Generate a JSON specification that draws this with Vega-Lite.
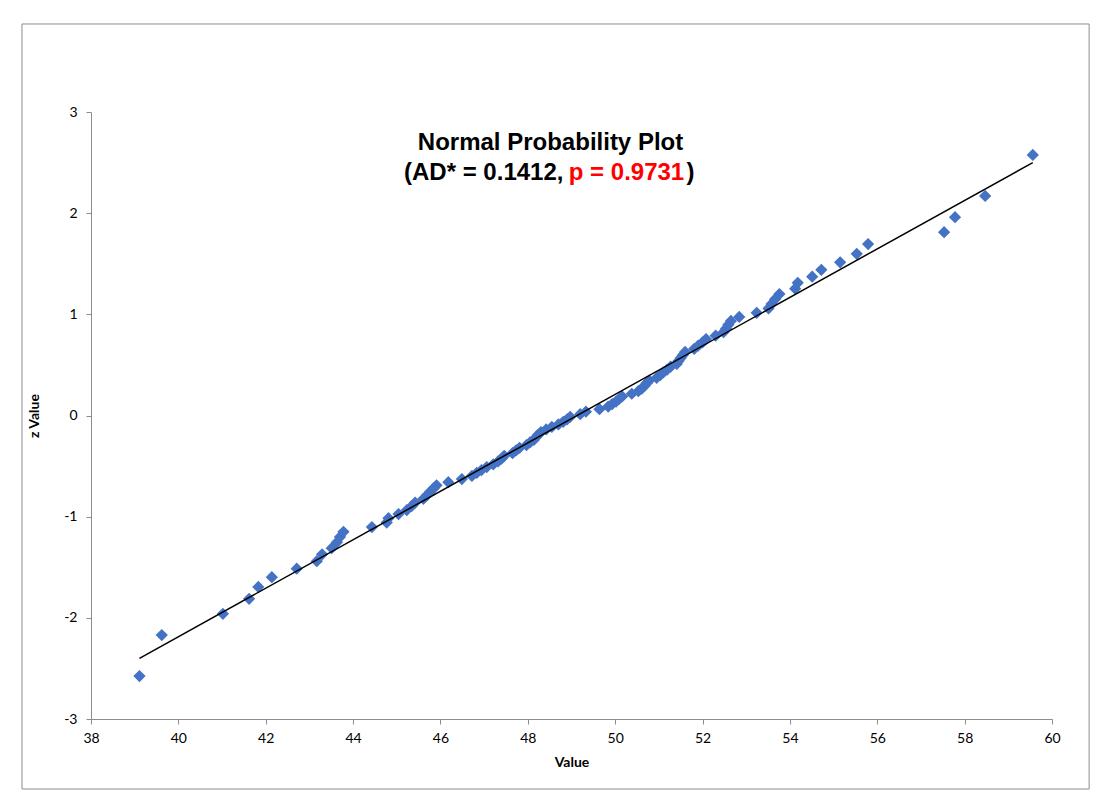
{
  "$schema": "https://vega.github.io/schema/vega-lite/v6.json",
  "width": 961,
  "height": 607,
  "autosize": {"type": "none"},
  "padding": {"left": 91, "top": 112, "right": 58, "bottom": 79},
  "background": "white",
  "config": {
    "view": {"stroke": null},
    "axis": {
      "grid": false, "domainColor": "#8c8c8c", "tickColor": "#8c8c8c", "tickSize": 5,
      "labelFont": "Lato", "labelFontSize": 14, "labelColor": "#000000",
      "labelFlush": false, "labelOverlap": false,
      "titleFont": "Lato", "titleFontSize": 14, "titleFontWeight": "bold", "titleColor": "#000000"
    },
    "axisX": {"labelPadding": 7, "titlePadding": 10},
    "axisY": {"labelPadding": 9, "titlePadding": 22}
  },
  "layer": [
    {
      "data": {"values": [
        {"value": 39.11, "z": -2.576}, {"value": 39.62, "z": -2.170}, {"value": 41.02, "z": -1.960}, {"value": 41.62, "z": -1.812},
        {"value": 41.83, "z": -1.695}, {"value": 42.14, "z": -1.598}, {"value": 42.71, "z": -1.514}, {"value": 43.17, "z": -1.440},
        {"value": 43.29, "z": -1.372}, {"value": 43.51, "z": -1.311}, {"value": 43.63, "z": -1.254}, {"value": 43.70, "z": -1.200},
        {"value": 43.78, "z": -1.150}, {"value": 44.43, "z": -1.103}, {"value": 44.77, "z": -1.058}, {"value": 44.81, "z": -1.015},
        {"value": 45.04, "z": -0.974}, {"value": 45.23, "z": -0.935}, {"value": 45.34, "z": -0.896}, {"value": 45.42, "z": -0.860},
        {"value": 45.61, "z": -0.824}, {"value": 45.69, "z": -0.789}, {"value": 45.76, "z": -0.755}, {"value": 45.84, "z": -0.722},
        {"value": 45.91, "z": -0.690}, {"value": 46.18, "z": -0.659}, {"value": 46.49, "z": -0.628}, {"value": 46.72, "z": -0.598},
        {"value": 46.83, "z": -0.568}, {"value": 46.94, "z": -0.539}, {"value": 47.06, "z": -0.510}, {"value": 47.21, "z": -0.482},
        {"value": 47.32, "z": -0.454}, {"value": 47.40, "z": -0.426}, {"value": 47.46, "z": -0.399}, {"value": 47.65, "z": -0.372},
        {"value": 47.73, "z": -0.345}, {"value": 47.81, "z": -0.319}, {"value": 47.97, "z": -0.292}, {"value": 48.05, "z": -0.266},
        {"value": 48.14, "z": -0.240}, {"value": 48.19, "z": -0.215}, {"value": 48.24, "z": -0.189}, {"value": 48.30, "z": -0.164},
        {"value": 48.42, "z": -0.138}, {"value": 48.55, "z": -0.113}, {"value": 48.70, "z": -0.088}, {"value": 48.81, "z": -0.063},
        {"value": 48.90, "z": -0.038}, {"value": 48.97, "z": -0.013}, {"value": 49.20, "z": 0.013}, {"value": 49.33, "z": 0.038},
        {"value": 49.64, "z": 0.063}, {"value": 49.84, "z": 0.088}, {"value": 49.93, "z": 0.113}, {"value": 50.02, "z": 0.138},
        {"value": 50.09, "z": 0.164}, {"value": 50.16, "z": 0.189}, {"value": 50.38, "z": 0.215}, {"value": 50.53, "z": 0.240},
        {"value": 50.61, "z": 0.266}, {"value": 50.67, "z": 0.292}, {"value": 50.72, "z": 0.319}, {"value": 50.78, "z": 0.345},
        {"value": 50.95, "z": 0.372}, {"value": 51.03, "z": 0.399}, {"value": 51.10, "z": 0.426}, {"value": 51.19, "z": 0.454},
        {"value": 51.27, "z": 0.482}, {"value": 51.41, "z": 0.510}, {"value": 51.45, "z": 0.539}, {"value": 51.50, "z": 0.568},
        {"value": 51.55, "z": 0.598}, {"value": 51.60, "z": 0.628}, {"value": 51.81, "z": 0.659}, {"value": 51.90, "z": 0.690},
        {"value": 52.00, "z": 0.722}, {"value": 52.08, "z": 0.755}, {"value": 52.30, "z": 0.789}, {"value": 52.48, "z": 0.824},
        {"value": 52.54, "z": 0.860}, {"value": 52.59, "z": 0.896}, {"value": 52.65, "z": 0.935}, {"value": 52.84, "z": 0.974},
        {"value": 53.24, "z": 1.015}, {"value": 53.51, "z": 1.058}, {"value": 53.58, "z": 1.103}, {"value": 53.66, "z": 1.150},
        {"value": 53.76, "z": 1.200}, {"value": 54.12, "z": 1.254}, {"value": 54.18, "z": 1.311}, {"value": 54.51, "z": 1.372},
        {"value": 54.72, "z": 1.440}, {"value": 55.15, "z": 1.514}, {"value": 55.53, "z": 1.598}, {"value": 55.79, "z": 1.695},
        {"value": 57.53, "z": 1.812}, {"value": 57.78, "z": 1.960}, {"value": 58.47, "z": 2.170}, {"value": 59.56, "z": 2.576}
      ]},
      "mark": {"type": "point", "shape": "diamond", "filled": true, "size": 150, "color": "#4472C4", "opacity": 1},
      "encoding": {
        "x": {
          "field": "value", "type": "quantitative",
          "scale": {"domain": [38, 60], "nice": false, "zero": false},
          "axis": {"title": "Value", "values": [38, 40, 42, 44, 46, 48, 50, 52, 54, 56, 58, 60]}
        },
        "y": {
          "field": "z", "type": "quantitative",
          "scale": {"domain": [-3, 3], "nice": false, "zero": false},
          "axis": {"title": "z Value", "values": [-3, -2, -1, 0, 1, 2, 3], "labelExpr": "'' + datum.value"}
        }
      }
    },
    {
      "data": {"values": [{"value": 39.11, "z": -2.40}, {"value": 59.56, "z": 2.50}]},
      "mark": {"type": "line", "color": "#000000", "strokeWidth": 1.5},
      "encoding": {
        "x": {"field": "value", "type": "quantitative", "title": "Value"},
        "y": {"field": "z", "type": "quantitative", "title": "z Value"}
      }
    },
    {
      "data": {"values": [{"box": "frame"}]},
      "mark": {"type": "rect", "fill": "transparent", "stroke": "#8c8c8c", "strokeWidth": 1, "clip": false},
      "encoding": {
        "x": {"datum": 36.42, "type": "quantitative", "title": "Value"},
        "x2": {"datum": 60.85},
        "y": {"datum": 3.87, "type": "quantitative", "title": "z Value"},
        "y2": {"datum": -3.692}
      }
    },
    {
      "data": {"values": [{"label": "Normal Probability Plot"}]},
      "mark": {"type": "text", "font": "Liberation Sans", "fontSize": 24, "fontWeight": "bold", "color": "#000000", "align": "center", "baseline": "alphabetic", "clip": false},
      "encoding": {
        "x": {"datum": 48.52, "type": "quantitative", "title": "Value"},
        "y": {"datum": 2.629, "type": "quantitative", "title": "z Value"},
        "text": {"field": "label"}
      }
    },
    {
      "data": {"values": [{"label": "(AD* = 0.1412,"}]},
      "mark": {"type": "text", "font": "Liberation Sans", "fontSize": 24, "fontWeight": "bold", "color": "#000000", "align": "left", "baseline": "alphabetic", "clip": false},
      "encoding": {
        "x": {"datum": 45.166, "type": "quantitative", "title": "Value"},
        "y": {"datum": 2.323, "type": "quantitative", "title": "z Value"},
        "text": {"field": "label"}
      }
    },
    {
      "data": {"values": [{"label": "p = 0.9731"}]},
      "mark": {"type": "text", "font": "Liberation Sans", "fontSize": 24, "fontWeight": "bold", "color": "#FF0000", "align": "right", "baseline": "alphabetic", "clip": false},
      "encoding": {
        "x": {"datum": 51.58, "type": "quantitative", "title": "Value"},
        "y": {"datum": 2.323, "type": "quantitative", "title": "z Value"},
        "text": {"field": "label"}
      }
    },
    {
      "data": {"values": [{"label": ")"}]},
      "mark": {"type": "text", "font": "Liberation Sans", "fontSize": 24, "fontWeight": "bold", "color": "#000000", "align": "left", "baseline": "alphabetic", "clip": false},
      "encoding": {
        "x": {"datum": 51.63, "type": "quantitative", "title": "Value"},
        "y": {"datum": 2.323, "type": "quantitative", "title": "z Value"},
        "text": {"field": "label"}
      }
    }
  ]
}
